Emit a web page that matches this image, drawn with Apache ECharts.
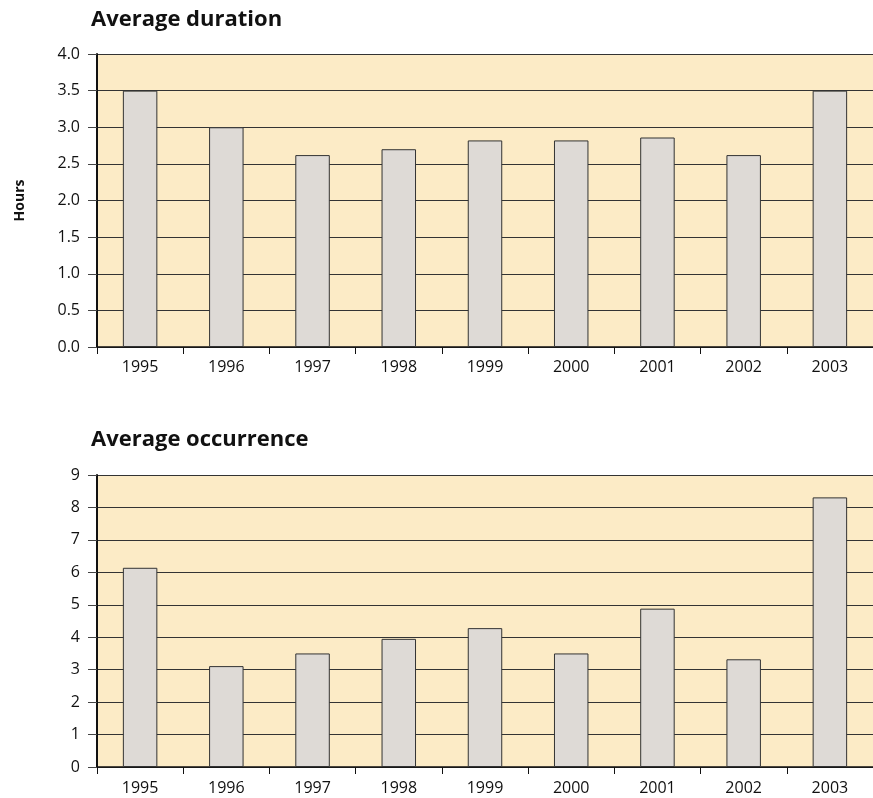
<!DOCTYPE html>
<html>
<head>
<meta charset="utf-8">
<script src="https://cdn.jsdelivr.net/npm/echarts@6/dist/echarts.min.js"></script>
<style>
  html, body { margin: 0; padding: 0; background: #ffffff; }
  #chart { width: 873px; height: 798px; }
</style>
</head>
<body>
<div id="chart"></div>
<script>
// Years shown on both panels
const years = ['1995', '1996', '1997', '1998', '1999', '2000', '2001', '2002', '2003'];
// Average duration per year (hours)
const durationHours = [3.5, 3.0, 2.62, 2.7, 2.82, 2.82, 2.86, 2.62, 3.5];
// Average occurrence per year
const occurrence = [6.14, 3.11, 3.5, 3.95, 4.28, 3.5, 4.88, 3.32, 8.31];

const FONT = '"Open Sans", "Noto Sans", sans-serif';
const plotBg = '#FCEBC6';
const barFill = '#DEDAD6';
const lineDark = '#333333';

function xAxisFor(gridIndex, margin) {
  return {
    type: 'category',
    gridIndex: gridIndex,
    data: years,
    boundaryGap: true,
    axisLine: { show: true, lineStyle: { color: '#111', width: 1.5 } },
    axisTick: { show: true, alignWithLabel: false, length: 7, lineStyle: { color: '#111', width: 1 } },
    axisLabel: { color: '#111', fontFamily: FONT, fontSize: 16, margin: margin },
    splitLine: { show: false }
  };
}

function yAxisFor(gridIndex, max, interval, fmt, extra) {
  return Object.assign({
    type: 'value',
    gridIndex: gridIndex,
    min: 0,
    max: max,
    interval: interval,
    axisLine: { show: true, lineStyle: { color: '#111', width: 2 } },
    axisTick: { show: true, length: 9, lineStyle: { color: '#444', width: 1 } },
    axisLabel: { color: '#111', fontFamily: FONT, fontSize: 16, margin: 17, formatter: fmt },
    splitLine: { show: true, lineStyle: { color: lineDark, width: 1 } }
  }, extra || {});
}

function barSeries(index, values) {
  return {
    type: 'bar',
    xAxisIndex: index,
    yAxisIndex: index,
    data: values,
    barWidth: '40%',
    itemStyle: { color: barFill, borderColor: lineDark, borderWidth: 1 },
    silent: true
  };
}

// Both panels share the same plot geometry; labels sit outside the plot areas.
const gridBase = {
  left: 97, right: 0, show: true, backgroundColor: plotBg, borderWidth: 0,
  containLabel: false, outerBoundsMode: 'none'
};

const chart = echarts.init(document.getElementById('chart'), null, { renderer: 'canvas' });
chart.setOption({
  animation: false,
  backgroundColor: '#ffffff',
  title: [
    { text: 'Average duration', left: 86, top: 4,
      textStyle: { fontFamily: FONT, fontWeight: 'bold', fontSize: 22, color: '#111' } },
    { text: 'Average occurrence', left: 86, top: 424,
      textStyle: { fontFamily: FONT, fontWeight: 'bold', fontSize: 22, color: '#111' } }
  ],
  grid: [
    Object.assign({ top: 54, height: 293 }, gridBase),
    Object.assign({ top: 475, height: 292 }, gridBase)
  ],
  xAxis: [xAxisFor(0, 12), xAxisFor(1, 13)],
  yAxis: [
    yAxisFor(0, 4, 0.5, v => v.toFixed(1), {
      name: 'Hours',
      nameLocation: 'middle',
      nameGap: 70,
      nameRotate: 90,
      nameTextStyle: { fontFamily: FONT, fontWeight: 'bold', fontSize: 14, color: '#111' }
    }),
    yAxisFor(1, 9, 1, v => String(v))
  ],
  series: [barSeries(0, durationHours), barSeries(1, occurrence)]
});
</script>
</body>
</html>
